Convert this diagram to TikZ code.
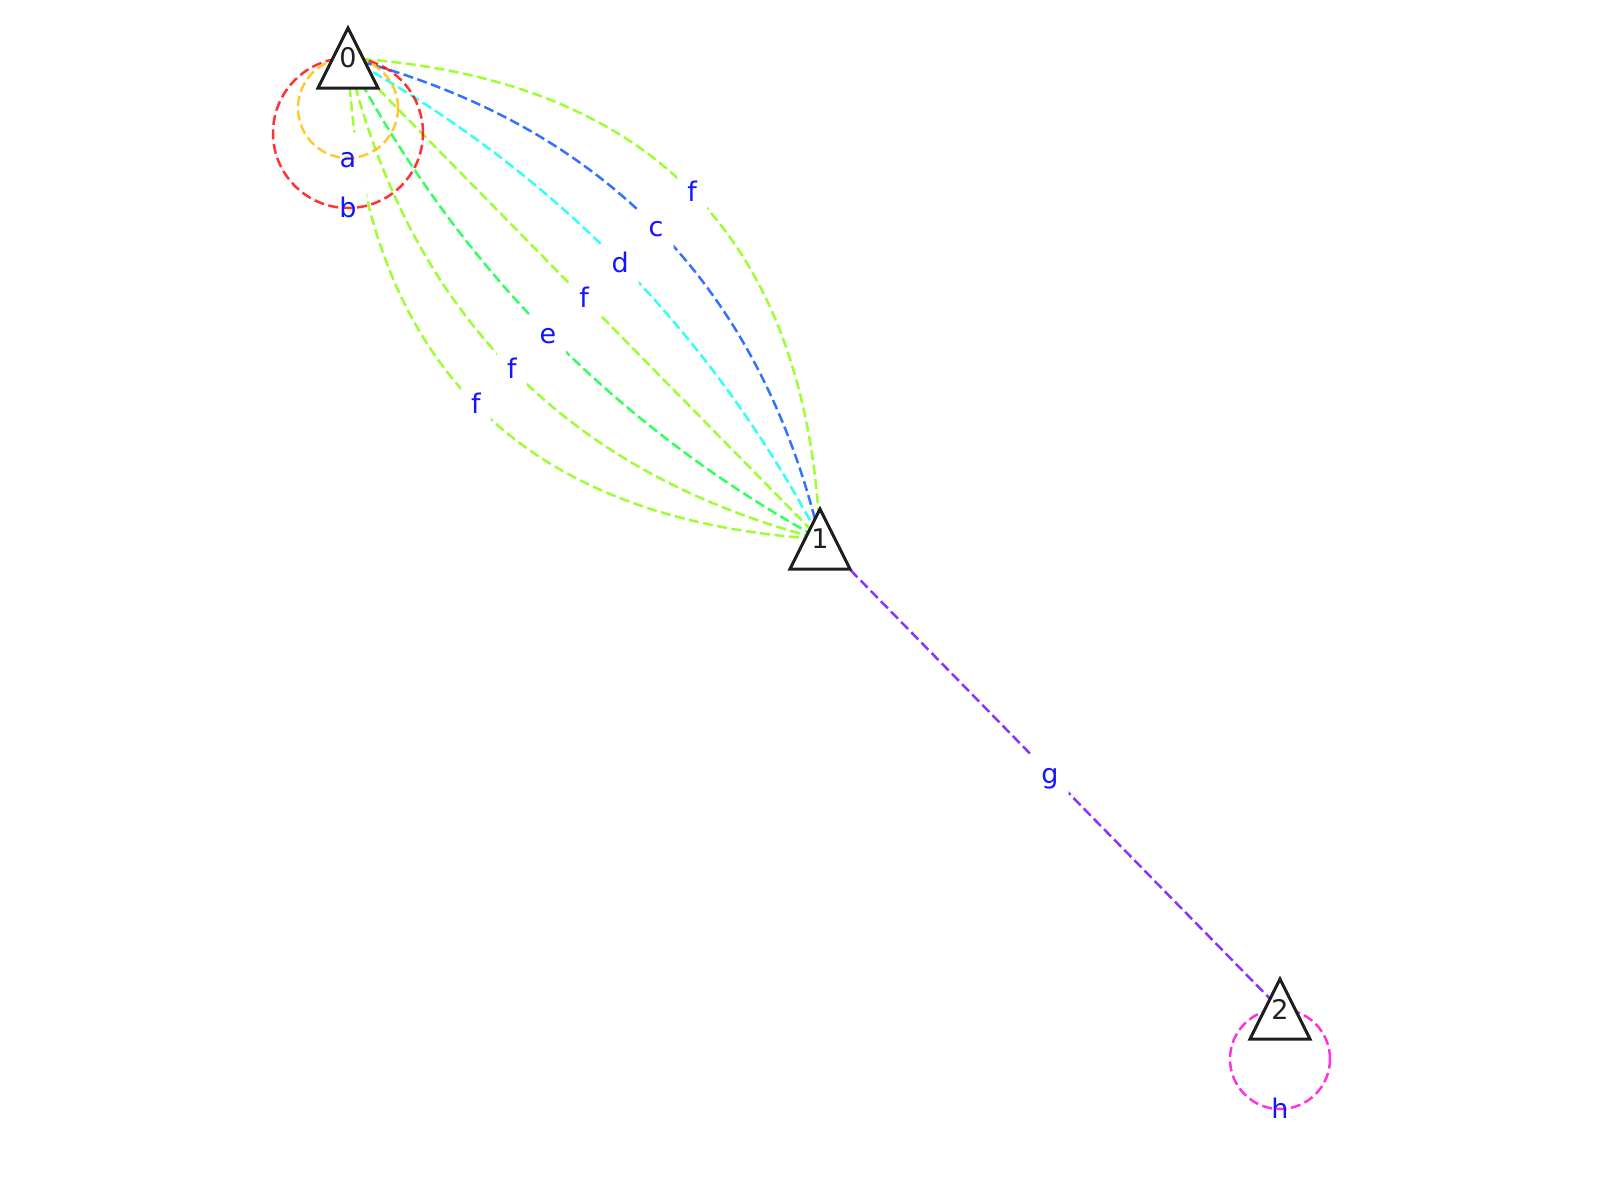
\documentclass[tikz,border=0pt]{standalone}
\usepackage{fontspec}
\setmainfont{DejaVu Sans}
\usetikzlibrary{calc}
\definecolor{cred}{RGB}{255,0,0}
\definecolor{corange}{RGB}{255,188,0}
\definecolor{cchart}{RGB}{133,255,0}
\definecolor{cgreen}{RGB}{0,255,55}
\definecolor{ccyan}{RGB}{0,255,243}
\definecolor{cblue}{RGB}{0,79,255}
\definecolor{cpurple}{RGB}{110,0,255}
\definecolor{cmagenta}{RGB}{255,0,212}
\definecolor{labblue}{RGB}{20,20,255}
\pgfdeclarelayer{bgfill}
\pgfdeclarelayer{edges}
\pgfdeclarelayer{labels}
\pgfdeclarelayer{loops}
\pgfdeclarelayer{tris}
\pgfsetlayers{bgfill,edges,labels,loops,tris,main}
\tikzset{
  vtx/.style={inner sep=0pt, font=\fontsize{27}{32}\selectfont, text=black!88},
  tri/.style={draw=black!88, fill=white, line width=3pt, line join=miter},
  edg/.style={line width=2.5pt, dash pattern=on 10pt off 4.5pt, draw opacity=0.8},
  elab/.style={fill=white, text=labblue, font=\fontsize{27}{32}\selectfont,
    rounded corners=6pt, inner sep=10pt,
    text height=25pt, text depth=6.5pt},
  ltext/.style={elab, fill=none}
}
\begin{document}
\begin{tikzpicture}[x=1pt,y=-1pt]
\useasboundingbox (0,0) rectangle (1600,1200);
\begin{pgfonlayer}{bgfill}
  \fill[white] (0,0) rectangle (1600,1200);
\end{pgfonlayer}
% vertices
\node[vtx] (n0) at (348,58) {0};
\node[vtx] (n1) at (820,539) {1};
\node[vtx] (n2) at (1280,1009) {2};
% edges
\begin{pgfonlayer}{edges}
  \coordinate (m01) at ($(n0.center)!0.5!(n1.center)$);
  \coordinate (k1) at ($(m01)!0.9!90:(n1.center)$);
  \coordinate (k2) at ($(m01)!0.6!90:(n1.center)$);
  \coordinate (k3) at ($(m01)!0.3!90:(n1.center)$);
  \coordinate (k5) at ($(m01)!-0.3!90:(n1.center)$);
  \coordinate (k6) at ($(m01)!-0.6!90:(n1.center)$);
  \coordinate (k7) at ($(m01)!-0.9!90:(n1.center)$);
  \draw[edg, draw=cchart] (n0.center) .. controls ($(n0.center)!0.6667!(k1)$) and ($(n1.center)!0.6667!(k1)$) .. (n1.center);
  \draw[edg, draw=cblue] (n0.center) .. controls ($(n0.center)!0.6667!(k2)$) and ($(n1.center)!0.6667!(k2)$) .. (n1.center);
  \draw[edg, draw=ccyan] (n0.center) .. controls ($(n0.center)!0.6667!(k3)$) and ($(n1.center)!0.6667!(k3)$) .. (n1.center);
  \draw[edg, draw=cchart] (n0.center) -- (n1.center);
  \draw[edg, draw=cgreen] (n0.center) .. controls ($(n0.center)!0.6667!(k5)$) and ($(n1.center)!0.6667!(k5)$) .. (n1.center);
  \draw[edg, draw=cchart] (n0.center) .. controls ($(n0.center)!0.6667!(k6)$) and ($(n1.center)!0.6667!(k6)$) .. (n1.center);
  \draw[edg, draw=cchart] (n0.center) .. controls ($(n0.center)!0.6667!(k7)$) and ($(n1.center)!0.6667!(k7)$) .. (n1.center);
  \draw[edg, draw=cpurple] (n1.center) -- (n2.center);
\end{pgfonlayer}
% edge labels
\begin{pgfonlayer}{labels}
  \node[elab] (lf1) at ($(m01)!0.45!90:(n1.center)$) {f};
  \node[elab] (lc) at ($(m01)!0.3!90:(n1.center)$) {c};
  \node[elab] (ld) at ($(m01)!0.15!90:(n1.center)$) {d};
  \node[elab] (lf2) at (m01) {f};
  \node[elab] (le) at ($(m01)!-0.15!90:(n1.center)$) {e};
  \node[elab] (lf3) at ($(m01)!-0.3!90:(n1.center)$) {f};
  \node[elab] (lf4) at ($(m01)!-0.45!90:(n1.center)$) {f};
  \node[elab] (lg) at ($(n1.center)!0.5!(n2.center)$) {g};
  \node[elab] (ba) at ($(n0.center)+(0,100)$) {\phantom{a}};
  \node[elab] (bb) at ($(n0.center)+(0,150)$) {\phantom{b}};
  \node[elab] (bh) at ($(n2.center)+(0,100)$) {\phantom{h}};
\end{pgfonlayer}
% self loops
\begin{pgfonlayer}{loops}
  \draw[edg, draw=cred] ($(n0.center)+(0,75)$) circle[radius=75pt];
  \draw[edg, draw=corange] ($(n0.center)+(0,50)$) circle[radius=50pt];
  \draw[edg, draw=cmagenta] ($(n2.center)+(0,50)$) circle[radius=50pt];
\end{pgfonlayer}
% triangles
\begin{pgfonlayer}{tris}
  \foreach \v in {n0,n1,n2}
    \draw[tri] ($(\v.center)+(0,-30)$) -- ($(\v.center)+(-30,30)$) -- ($(\v.center)+(30,30)$) -- cycle;
\end{pgfonlayer}
% loop label texts
\node[ltext] (la) at (ba.center) {a};
\node[ltext] (lb) at (bb.center) {b};
\node[ltext] (lh) at (bh.center) {h};
\end{tikzpicture}
\end{document}
